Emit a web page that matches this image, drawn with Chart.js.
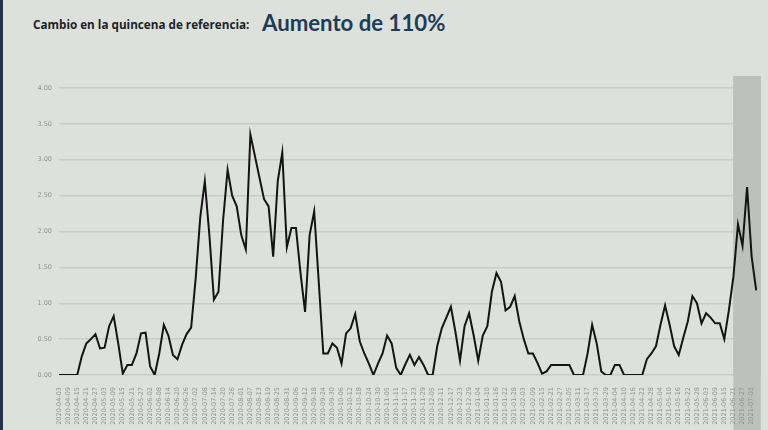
<!DOCTYPE html>
<html>
<head>
<meta charset="utf-8">
<script src="https://cdn.jsdelivr.net/npm/chart.js@4"></script>
<style>
  html, body { margin: 0; padding: 0; }
  body { width: 768px; height: 430px; background: #dce1db; position: relative; overflow: hidden; }
  #edge { position: absolute; left: 0; top: 0; width: 3px; height: 430px; background: #26324a; }
  #t1 { position: absolute; left: 33px; top: 16px; font-family: "Open Sans", sans-serif; font-weight: 700; font-size: 11.7px; color: #1c2228; white-space: nowrap; }
  #t2 { position: absolute; left: 262px; top: 9px; font-family: Lato, sans-serif; font-weight: 700; font-size: 22.2px; color: #1e3b58; white-space: nowrap; }
  canvas { position: absolute; left: 0; top: 0; }
</style>
</head>
<body>
<div id="edge"></div>
<div id="t1">Cambio en la quincena de referencia:</div>
<div id="t2">Aumento de 110%</div>
<canvas id="c" width="768" height="430"></canvas>
<script>
const dates = [
  "2020-04-03","2020-04-06","2020-04-09","2020-04-12","2020-04-15","2020-04-18","2020-04-21","2020-04-24","2020-04-27","2020-04-30",
  "2020-05-03","2020-05-06","2020-05-09","2020-05-12","2020-05-15","2020-05-18","2020-05-21","2020-05-24","2020-05-27","2020-05-30",
  "2020-06-02","2020-06-05","2020-06-08","2020-06-11","2020-06-14","2020-06-17","2020-06-20","2020-06-23","2020-06-26","2020-06-29",
  "2020-07-02","2020-07-05","2020-07-08","2020-07-11","2020-07-14","2020-07-17","2020-07-20","2020-07-23","2020-07-26","2020-07-29",
  "2020-08-01","2020-08-04","2020-08-07","2020-08-10","2020-08-13","2020-08-16","2020-08-19","2020-08-22","2020-08-25","2020-08-28","2020-08-31",
  "2020-09-03","2020-09-06","2020-09-09","2020-09-12","2020-09-15","2020-09-18","2020-09-21","2020-09-24","2020-09-27","2020-09-30",
  "2020-10-03","2020-10-06","2020-10-09","2020-10-12","2020-10-15","2020-10-18","2020-10-21","2020-10-24","2020-10-27","2020-10-30",
  "2020-11-02","2020-11-05","2020-11-08","2020-11-11","2020-11-14","2020-11-17","2020-11-20","2020-11-23","2020-11-26","2020-11-29",
  "2020-12-02","2020-12-05","2020-12-08","2020-12-11","2020-12-14","2020-12-17","2020-12-20","2020-12-23","2020-12-26","2020-12-29",
  "2021-01-01","2021-01-04","2021-01-07","2021-01-10","2021-01-13","2021-01-16","2021-01-19","2021-01-22","2021-01-25","2021-01-28","2021-01-31",
  "2021-02-03","2021-02-06","2021-02-09","2021-02-12","2021-02-15","2021-02-18","2021-02-21","2021-02-24","2021-02-27",
  "2021-03-02","2021-03-05","2021-03-08","2021-03-11","2021-03-14","2021-03-17","2021-03-20","2021-03-23","2021-03-26","2021-03-29",
  "2021-04-01","2021-04-04","2021-04-07","2021-04-10","2021-04-13","2021-04-16","2021-04-19","2021-04-22","2021-04-25","2021-04-28",
  "2021-05-01","2021-05-04","2021-05-07","2021-05-10","2021-05-13","2021-05-16","2021-05-19","2021-05-22","2021-05-25","2021-05-28","2021-05-31",
  "2021-06-03","2021-06-06","2021-06-09","2021-06-12","2021-06-15","2021-06-18","2021-06-21","2021-06-24","2021-06-27","2021-06-30",
  "2021-07-03","2021-07-06"
];

const values = [
  0, 0, 0, 0, 0, 0.26, 0.44, 0.50, 0.57, 0.37,
  0.38, 0.68, 0.82, 0.44, 0.02, 0.14, 0.14, 0.30, 0.58, 0.59,
  0.12, 0, 0.30, 0.70, 0.55, 0.28, 0.22, 0.42, 0.57, 0.66,
  1.35, 2.20, 2.70, 1.95, 1.05, 1.16, 2.15, 2.86, 2.50, 2.35,
  1.95, 1.75, 3.35, 3.05, 2.75, 2.45, 2.35, 1.65, 2.70, 3.10, 1.78,
  2.05, 2.05, 1.42, 0.88, 1.95, 2.28, 1.30, 0.30, 0.30, 0.44,
  0.38, 0.16, 0.58, 0.65, 0.85, 0.47, 0.30, 0.16, 0.00, 0.16,
  0.30, 0.55, 0.44, 0.10, 0, 0.15, 0.28, 0.14, 0.25, 0.14,
  0, 0, 0.40, 0.65, 0.80, 0.95, 0.60, 0.20, 0.68, 0.86,
  0.55, 0.20, 0.55, 0.68, 1.16, 1.42, 1.30, 0.90, 0.95, 1.10, 0.75,
  0.50, 0.30, 0.30, 0.17, 0.02, 0.05, 0.14, 0.14, 0.14,
  0.14, 0.14, 0, 0, 0, 0.30, 0.70, 0.44, 0.05, 0,
  0, 0.14, 0.14, 0, 0, 0, 0, 0, 0.22, 0.30,
  0.40, 0.70, 0.97, 0.70, 0.40, 0.28, 0.52, 0.75, 1.10, 1.00, 0.72,
  0.86, 0.80, 0.72, 0.72, 0.50, 0.90, 1.37, 2.10, 1.80, 2.62,
  1.65, 1.18
];

const yTicks = [0, 0.5, 1, 1.5, 2, 2.5, 3, 3.5, 4];
const referenceFortnight = ["2021-06-21", "2021-07-06"];

function shadeBox(chart) {
  const x = chart.scales.x;
  const step = x.getPixelForValue(1) - x.getPixelForValue(0);
  const left = x.getPixelForValue(dates.indexOf(referenceFortnight[0]));
  const right = x.getPixelForValue(dates.indexOf(referenceFortnight[1])) + step;
  return { left, right, top: chart.chartArea.top - 12 };
}

const shadePlugin = {
  id: 'shade',
  beforeDraw(chart) {
    const b = shadeBox(chart);
    const ctx = chart.ctx;
    ctx.save();
    ctx.fillStyle = '#bcc1bb';
    ctx.fillRect(b.left, b.top, b.right - b.left, chart.height - b.top);
    ctx.restore();
  },
  beforeDatasetsDraw(chart) {
    const b = shadeBox(chart);
    const ctx = chart.ctx;
    ctx.save();
    ctx.fillStyle = '#bcc1bb';
    ctx.fillRect(b.left, b.top, b.right - b.left, chart.chartArea.bottom + 2 - b.top);
    ctx.restore();
  }
};

new Chart(document.getElementById('c'), {
  type: 'line',
  data: {
    labels: dates,
    datasets: [{
      data: values,
      borderColor: '#141414',
      borderWidth: 2,
      pointRadius: 0,
      tension: 0,
      fill: false
    }]
  },
  options: {
    responsive: false,
    animation: false,
    devicePixelRatio: 1,
    layout: { padding: { top: 88, right: 8, left: 0, bottom: 0 } },
    plugins: { legend: { display: false }, tooltip: { enabled: false } },
    scales: {
      x: {
        type: 'category',
        offset: false,
        grid: { display: false },
        border: { display: false },
        ticks: {
          autoSkip: false,
          minRotation: 90,
          maxRotation: 90,
          padding: 4,
          font: { family: 'DejaVu Sans', size: 6.5 },
          color: '#8f948f',
          callback: function (v, i) { return i % 2 === 0 ? dates[i] : ''; }
        },
        afterFit(s) { s.height = 55; }
      },
      y: {
        min: 0,
        max: 4,
        afterBuildTicks(s) { s.ticks = yTicks.map(v => ({ value: v })); },
        grid: { color: '#c8cdc7', lineWidth: 1.5, drawTicks: false },
        border: { display: false },
        ticks: {
          padding: 7,
          font: { family: 'DejaVu Sans', size: 6.5 },
          color: '#8f948f',
          callback: v => Number(v).toFixed(2)
        },
        afterFit(s) { s.width = 59; }
      }
    }
  },
  plugins: [shadePlugin]
});
</script>
</body>
</html>
